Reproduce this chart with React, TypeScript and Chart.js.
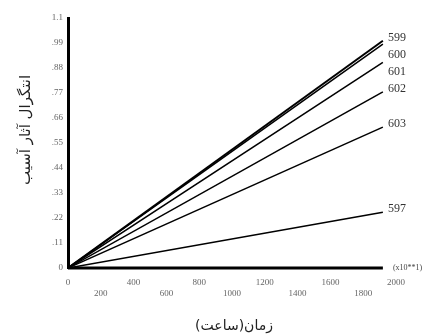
import React, { useEffect, useRef } from "react";
import { Chart, registerables } from "chart.js";

Chart.register(...registerables);

const seriesNames = ["599", "600", "601", "602", "603", "597"];
const startTime = 0;
const endTime = 1920;
const endValues = [1.0, 0.985, 0.905, 0.775, 0.62, 0.245];
const yTickLabels = ["0", ".11", ".22", ".33", ".44", ".55", ".66", ".77", ".88", ".99", "1.1"];
const xTickValues = [0, 200, 400, 600, 800, 1000, 1200, 1400, 1600, 1800, 2000];
const yTitle = "انتگرال آثار آسیب";
const xTitle = "زمان(ساعت)";
const xUnit = "(x10**1)";

const SERIF = '"Liberation Serif", "Times New Roman", serif';
const ARABIC = '"DejaVu Sans", sans-serif';

const labelPlugin = {
  id: "customText",
  afterDatasetsDraw(chart: any) {
    const { ctx, chartArea } = chart;
    const xs = chart.scales.x;
    const ys = chart.scales.y;
    ctx.save();
    const items = seriesNames.map((n, i) => ({
      name: n,
      x: xs.getPixelForValue(endTime),
      y: ys.getPixelForValue(endValues[i]) - 3,
    }));
    items.sort((a, b) => a.y - b.y);
    let prev = -Infinity;
    ctx.fillStyle = "#333";
    ctx.font = `12px ${SERIF}`;
    ctx.textAlign = "left";
    ctx.textBaseline = "middle";
    for (const it of items) {
      const y = Math.max(it.y, prev + 17);
      prev = y;
      ctx.fillText(it.name, it.x + 5, y);
    }
    ctx.font = `8px ${SERIF}`;
    ctx.fillStyle = "#444";
    ctx.fillText(xUnit, xs.getPixelForValue(endTime) + 10, ys.getPixelForValue(0));
    ctx.fillStyle = "#222";
    ctx.font = `14px ${ARABIC}`;
    ctx.direction = "rtl";
    ctx.textAlign = "center";
    ctx.fillText(xTitle, (chartArea.left + chartArea.right) / 2 + 2, 326);
    ctx.save();
    ctx.translate(26, 130);
    ctx.rotate(-Math.PI / 2);
    ctx.font = `15px ${ARABIC}`;
    ctx.fillText(yTitle, 0, 0);
    ctx.restore();
    ctx.restore();
  },
};

export default function App() {
  const ref = useRef<HTMLCanvasElement>(null);
  useEffect(() => {
    if (!ref.current) return;
    const datasets: any[] = seriesNames.map((n, i) => ({
      label: n,
      data: [
        { x: startTime, y: 0 },
        { x: endTime, y: endValues[i] },
      ],
      borderColor: "#000",
      borderWidth: i === 0 ? 2 : 1.5,
      pointRadius: 0,
      fill: false,
    }));
    datasets.push({
      label: "axis",
      data: [
        { x: startTime, y: 0 },
        { x: endTime, y: 0 },
      ],
      borderColor: "#000",
      borderWidth: 3,
      pointRadius: 0,
      clip: false,
    });
    const chart = new Chart(ref.current, {
      type: "line",
      data: { datasets },
      plugins: [labelPlugin],
      options: {
        animation: false,
        responsive: false,
        devicePixelRatio: 1,
        layout: { padding: { left: 0, top: 18, right: 31, bottom: 0 } },
        plugins: { legend: { display: false }, tooltip: { enabled: false } },
        scales: {
          x: {
            type: "linear",
            min: 0,
            max: 2000,
            afterBuildTicks: (s: any) => {
              s.ticks = xTickValues.map((v) => ({ value: v }));
            },
            afterFit: (s: any) => {
              s.height = 66;
            },
            grid: { display: false, drawTicks: false },
            border: { display: false },
            ticks: {
              autoSkip: false,
              maxRotation: 0,
              padding: 9,
              color: "#666",
              font: { family: SERIF, size: 9 },
              callback: (v: any, i: number) => (i % 2 === 0 ? String(v) : ["", String(v)]),
            },
          },
          y: {
            type: "linear",
            min: 0,
            max: 1.1,
            afterBuildTicks: (s: any) => {
              s.ticks = yTickLabels.map((_, i) => ({ value: (i * 11) / 100 }));
            },
            afterFit: (s: any) => {
              s.width = 68;
            },
            grid: { display: false, drawTicks: false },
            border: { display: true, color: "#000", width: 3 },
            ticks: {
              padding: 5,
              color: "#666",
              font: { family: SERIF, size: 9 },
              callback: (_v: any, i: number) => yTickLabels[i],
            },
          },
        },
      },
    });
    return () => chart.destroy();
  }, []);
  return (
    <div style={{ position: "fixed", left: 0, top: 0, width: 427, height: 334, background: "#fff" }}>
      <canvas ref={ref} width={427} height={334} style={{ width: 427, height: 334 }} />
    </div>
  );
}
